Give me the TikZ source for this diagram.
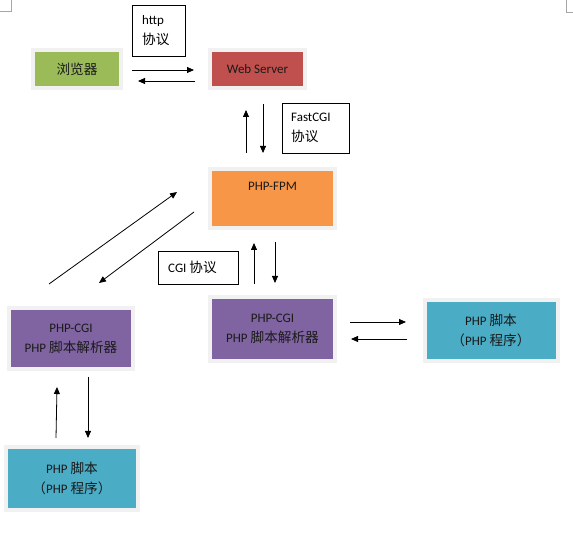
\documentclass[tikz,border=0pt]{standalone}
\usepackage{fontspec}
\setmainfont{Carlito}
\newfontfamily\cjk[Scale=1.05]{Noto Sans CJK SC}
\usetikzlibrary{arrows.meta,shadows}
\definecolor{cgreen}{HTML}{9BBB59}
\definecolor{cred}{HTML}{C0504D}
\definecolor{corange}{HTML}{F79646}
\definecolor{cpurple}{HTML}{8064A2}
\definecolor{cblue}{HTML}{4BACC6}
\definecolor{frame}{HTML}{F1F1F1}
\definecolor{txt}{HTML}{1A1A1A}
\tikzset{
  box/.style={rectangle, draw=frame, line width=4pt, fill=#1, inner sep=0pt,
    align=center, text=txt,
    drop shadow={shadow xshift=2pt, shadow yshift=-2pt, opacity=1, fill=#1!45!gray!70}},
  lbl/.style={rectangle, draw=black, line width=0.8pt, inner sep=0pt},
  lbltext/.style={anchor=west, align=left, inner sep=0pt, text=black},
  arr/.style={line width=0.8pt, -{Triangle[length=7pt,width=6pt]}},
  cmark/.style={draw=gray!70, line width=0.8pt},
}
\begin{document}
\begin{tikzpicture}[x=1pt,y=-1pt,font=\fontsize{13}{20}\selectfont]
\useasboundingbox[fill=white] (0,0) rectangle (573,534);
% page corner marks
\draw[cmark] (11,0) -- (11,11) -- (0,11);
\draw[cmark] (566,0) -- (566,12) -- (573,12);
% boxes
\node[box=cgreen, minimum width=88pt, minimum height=38pt] (browser) at (77,69) {{\cjk 浏览器}};
\node[box=cred, minimum width=95pt, minimum height=38pt] (web) at (257.5,69) {Web Server};
\node[box=corange, minimum width=125pt, minimum height=59pt] (fpm) at (272.5,198.5) {};
\node[text=txt, inner sep=0pt] (fpmt) at (272.5,186) {PHP-FPM};
\node[box=cpurple, minimum width=124pt, minimum height=61pt] (cgil) at (71,338.5) {PHP-CGI\\PHP {\cjk 脚本解析器}};
\node[box=cpurple, minimum width=125pt, minimum height=64pt] (cgir) at (272.5,329) {PHP-CGI\\PHP {\cjk 脚本解析器}};
\node[box=cblue, minimum width=133pt, minimum height=61pt] (phpr) at (491,330.5) {PHP {\cjk 脚本}\\{\cjk （}PHP {\cjk 程序）}};
\node[box=cblue, minimum width=132pt, minimum height=63pt] (phpb) at (72,478.5) {PHP {\cjk 脚本}\\{\cjk （}PHP {\cjk 程序）}};
% protocol labels
\node[lbl, minimum width=53pt, minimum height=51pt] (http) at (158.5,30.5) {};
\node[lbltext] (httpt) at (142,31) {http\\{\cjk 协议}};
\node[lbl, minimum width=67pt, minimum height=50pt] (fcgi) at (315.5,128) {};
\node[lbltext] (fcgit) at (291,128) {FastCGI\\{\cjk 协议}};
\node[lbl, minimum width=80pt, minimum height=33pt] (cgi) at (198,267.5) {};
\node[lbltext] (cgit) at (168,267) {CGI {\cjk 协议}};
% arrow end points
\coordinate (a1s) at (132,70); \coordinate (a1e) at (194,70);
\coordinate (a2s) at (195,81); \coordinate (a2e) at (138,81);
\coordinate (a3s) at (246,153); \coordinate (a3e) at (246,110);
\coordinate (a4s) at (263,104); \coordinate (a4e) at (263,153);
\coordinate (a5s) at (49,284); \coordinate (a5e) at (177,192);
\coordinate (a6s) at (194,212); \coordinate (a6e) at (99,283);
\coordinate (a7s) at (254,284); \coordinate (a7e) at (254,243);
\coordinate (a8s) at (275,242); \coordinate (a8e) at (275,283);
\coordinate (a9s) at (350,322); \coordinate (a9e) at (406,322);
\coordinate (a10s) at (407,339); \coordinate (a10e) at (351,339);
\coordinate (a11s) at (56,438); \coordinate (a11e) at (57,387);
\coordinate (a12s) at (88,377); \coordinate (a12e) at (88,438);
\foreach \i in {1,...,12} \draw[arr] (a\i s) -- (a\i e);
\end{tikzpicture}
\end{document}
